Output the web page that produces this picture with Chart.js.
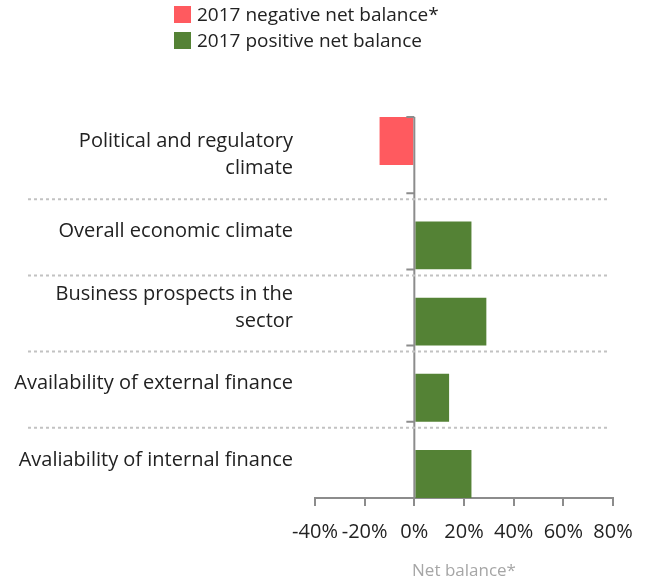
<!DOCTYPE html>
<html>
<head>
<meta charset="utf-8">
<script src="https://cdn.jsdelivr.net/npm/chart.js@4.4.1/dist/chart.umd.min.js"></script>
<style>
  html, body { margin: 0; padding: 0; background: #fff; }
  #wrap { position: relative; width: 650px; height: 583px; }
  #legend { position: absolute; left: 174px; top: 1px; font-family: "Open Sans", sans-serif; font-size: 19px; color: #222; }
  #legend .item { display: flex; align-items: center; height: 26px; }
  #legend .box { width: 17px; height: 17px; margin-right: 6px; }
</style>
</head>
<body>
<div id="wrap">
  <canvas id="chart" width="650" height="583"></canvas>
  <div id="legend"></div>
</div>
<script>
const categories = [
    ["Political and regulatory", "climate"],
    "Overall economic climate",
    ["Business prospects in the", "sector"],
    "Availability of external finance",
    "Avaliability of internal finance"
];
const negativeValues = [-14, null, null, null, null];
const positiveValues = [null, 23, 29, 14, 23];
const xTicks = [-40, -20, 0, 20, 40, 60, 80];

const axisGrey = "#8c8c8c";

// zero line with short ticks at category edges, plus dotted separators
const separators = {
    id: "separators",
    afterDatasetsDraw(chart) {
        const { ctx, chartArea, scales } = chart;
        const y = scales.y, x = scales.x;
        const zero = x.getPixelForValue(0);
        const half = (y.getPixelForValue(1) - y.getPixelForValue(0)) / 2;
        ctx.save();
        ctx.strokeStyle = axisGrey;
        ctx.lineWidth = 2;
        ctx.beginPath();
        ctx.moveTo(zero, chartArea.top);
        ctx.lineTo(zero, chartArea.bottom);
        for (let i = 0; i <= categories.length; i++) {
            const py = y.getPixelForValue(i) - half;
            ctx.moveTo(zero - 8, py);
            ctx.lineTo(zero, py);
        }
        ctx.stroke();

        ctx.strokeStyle = "#c2c2c2";
        ctx.setLineDash([3, 3]);
        ctx.beginPath();
        for (let i = 1; i < categories.length; i++) {
            const py = y.getPixelForValue(i) - half + 6;
            ctx.moveTo(28, py);
            ctx.lineTo(chartArea.right - 4, py);
        }
        ctx.stroke();
        ctx.restore();
    }
};

const chart = new Chart(document.getElementById("chart"), {
    type: "bar",
    data: {
        labels: categories,
        datasets: [{
            label: "2017 negative net balance*",
            data: negativeValues,
            backgroundColor: "#ff5a5f"
        }, {
            label: "2017 positive net balance",
            data: positiveValues,
            backgroundColor: "#548235"
        }]
    },
    options: {
        indexAxis: "y",
        responsive: false,
        animation: false,
        categoryPercentage: 0.74,
        barPercentage: 1.7,
        layout: { padding: { top: 117, right: 37, left: 0, bottom: 0 } },
        plugins: {
            legend: { display: false },
            tooltip: { enabled: false }
        },
        scales: {
            x: {
                min: -40,
                max: 80,
                afterBuildTicks(scale) {
                    scale.ticks = xTicks.map(v => ({ value: v }));
                },
                grid: { drawOnChartArea: false, tickLength: 8, color: axisGrey, lineWidth: 2 },
                border: { color: axisGrey, width: 2 },
                ticks: {
                    padding: 14,
                    color: "#222",
                    autoSkip: false,
                    maxRotation: 0,
                    minRotation: 0,
                    font: { family: "Open Sans", size: 20 },
                    callback: v => v + "%"
                },
                title: {
                    display: true,
                    text: "Net balance*",
                    color: "#a6a6a6",
                    font: { family: "Open Sans", size: 17 },
                    padding: { top: 10, bottom: 2 }
                },
                afterFit(scale) { scale.height = 85; }
            },
            y: {
                grid: { display: false, drawTicks: false },
                border: { display: false },
                ticks: {
                    padding: 22,
                    color: "#222",
                    font: { family: "Open Sans", size: 20, lineHeight: 1.35 }
                },
                afterFit(scale) { scale.width = 315; }
            }
        }
    },
    plugins: [separators]
});

document.getElementById("legend").innerHTML = chart.data.datasets.map(ds =>
    '<div class="item"><span class="box" style="background:' + ds.backgroundColor + '"></span>' + ds.label + '</div>'
).join("");
</script>
</body>
</html>
